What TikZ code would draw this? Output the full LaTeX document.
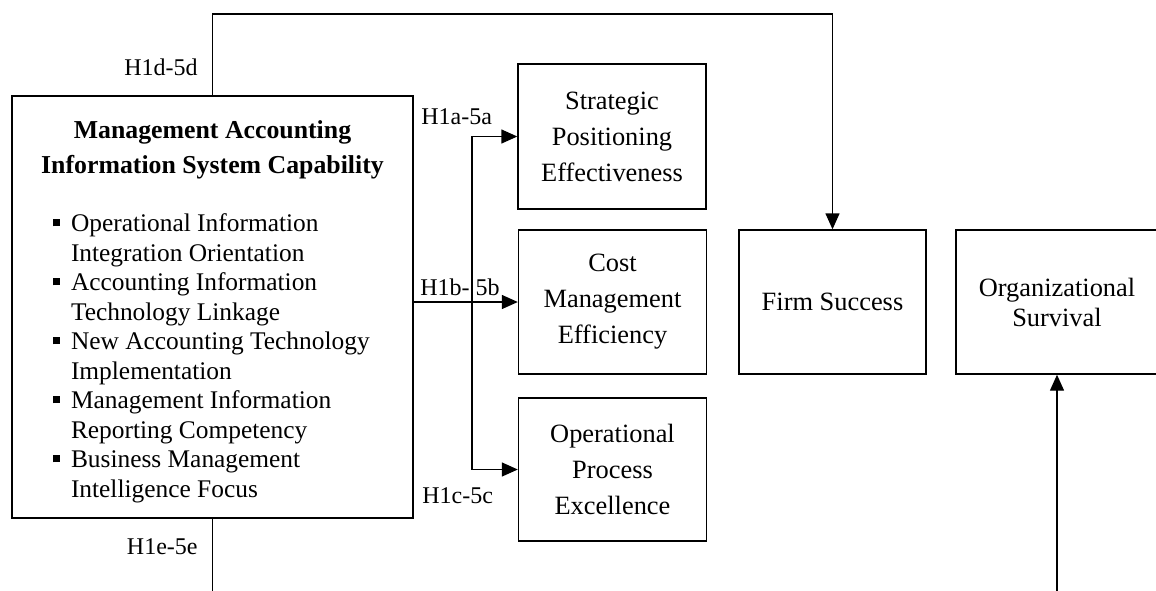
\documentclass[tikz,border=0pt]{standalone}
\usepackage{fontspec}
\setmainfont{Liberation Serif}
\usetikzlibrary{arrows.meta}
\tikzset{%
    blk/.style={draw,line width=0.7pt,inner sep=0pt,align=center,minimum width=94pt,minimum height=72pt,
        font=\fontsize{13.2}{18}\selectfont},
    hyp/.style={inner sep=0pt,font=\fontsize{12}{14}\selectfont}
}
\newcommand{\blt}{\leavevmode\llap{\rule[2.7pt]{3.5pt}{3.5pt}\hspace{5.5pt}}}

\begin{document}
\begin{tikzpicture}[
                x=0.5pt, y=-0.5pt,
                arr/.style={line width=0.7pt,-{Triangle[length=8pt,width=7pt]}},
                ln/.style={line width=0.7pt}
            ]
            \useasboundingbox (0,0) rectangle (1156,590);

            \node[blk,minimum width=200.5pt,minimum height=211pt] (mais) at (212.5,307){%
                \begin{minipage}{200.5pt}
                \centering\fontsize{12.9}{17.5}\selectfont\bfseries
                Management Accounting\\ Information System Capability\par
                \vspace{14.5pt}
                \raggedright\fontsize{12.7}{14.75}\selectfont\mdseries\leftskip=29.5pt
                \blt Operational Information\\ Integration Orientation\\
                \blt Accounting Information\\ Technology Linkage\\
                \blt New Accounting Technology\\ Implementation\\
                \blt Management Information\\ Reporting Competency\\
                \blt Business Management\\ Intelligence Focus\par
                \vspace{-4.5pt}
                \end{minipage}};
            \node[blk,minimum height=72.5pt] (spe) at (612,136.5){Strategic\\Positioning\\Effectiveness};
            \node[blk] (cme) at (612.5,302){Cost\\Management\\Efficiency};
            \node[blk,minimum height=71.5pt] (ope) at (612.5,469.5){Operational\\Process\\Excellence};
            \node[blk,minimum width=93.5pt] (fs) at (832.5,302){Firm Success};
            \node[blk,minimum width=101pt,font=\fontsize{13.2}{15}\selectfont] (os) at (1057,302){Organizational\\Survival};

            \coordinate (top) at (0,14);
            \coordinate (bot) at (0,594);
            \coordinate (split) at (472,0);

            \draw[arr] (mais.north) -- (mais.north |- top) -| (fs.north);
            \draw[arr] (mais.east |- cme.west) -- (cme.west);
            \draw[arr] (split |- ope.west) |- (spe.west);
            \draw[arr] (split |- spe.west) |- (ope.west);
            \draw[ln] (mais.south) -- (mais.south |- bot);
            \draw[arr] (os.south |- bot) -- (os.south);

            \node[hyp,anchor=east] (hd) at (198,67){H1d-5d};
            \node[hyp,anchor=west] (ha) at (421,117){H1a-5a};
            \node[hyp,anchor=west] (hb) at (420,287){H1b- 5b};
            \node[hyp,anchor=west] (hc) at (422,496){H1c-5c};
            \node[hyp,anchor=east] (he) at (198,547){H1e-5e};
        \end{tikzpicture}
\end{document}
